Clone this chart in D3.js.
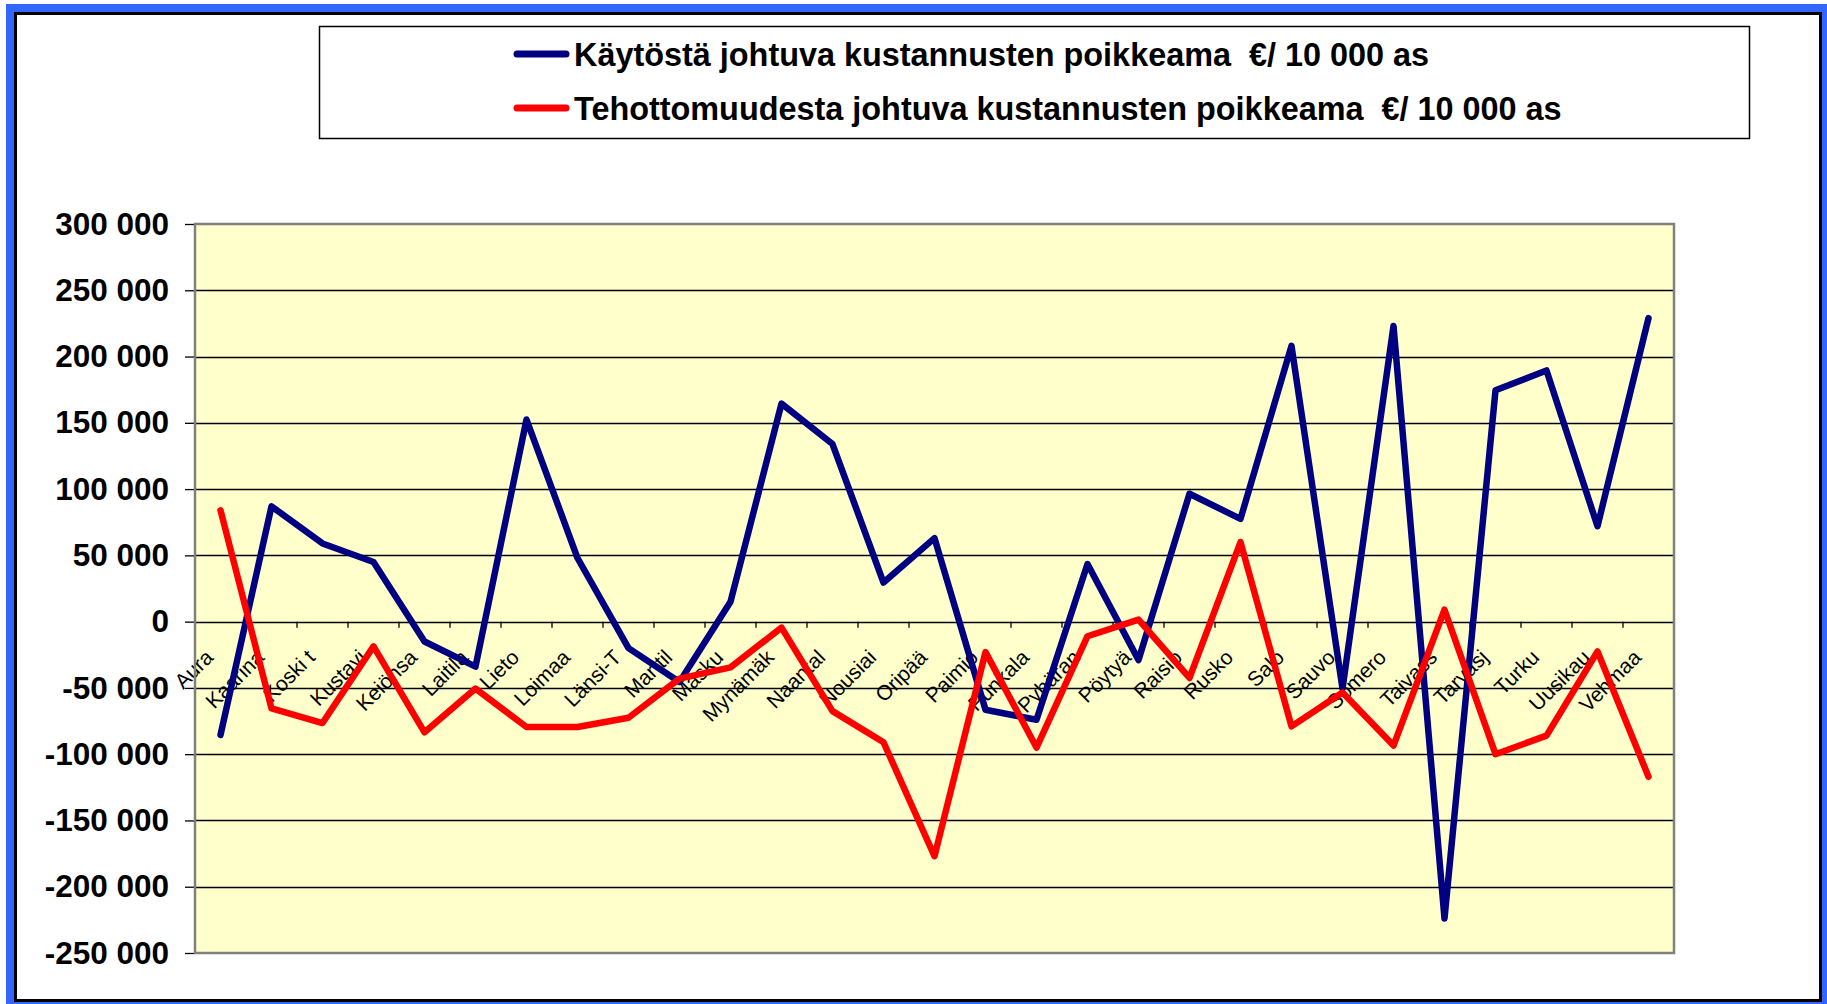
<!DOCTYPE html>
<html>
<head>
<meta charset="utf-8">
<script src="https://cdn.jsdelivr.net/npm/d3@7/dist/d3.min.js"></script>
<style>
  html, body { margin: 0; padding: 0; background: #ffffff; }
  svg { display: block; }
  text { font-family: "Liberation Sans", Arial, Helvetica, sans-serif; }
</style>
</head>
<body>
<svg id="chart" width="1827" height="1004"></svg>
<script>
// ---- Data ----
const categories = ["Aura","Kaarina","Koski t","Kustavi","Keiönsa","Laitila","Lieto","Loimaa","Länsi-T","Marttil",
  "Masku","Mynämäk","Naantal","Nousiai","Oripää","Paimio","Punkala","Pyhäran","Pöytyä","Raisio",
  "Rusko","Salo","Sauvo","Somero","Taivass","Tarvasj","Turku","Uusikau","Vehmaa"];

const kaytostaValues = [-85500, 87000, 59000, 45000, -15000, -34000, 152500, 48000, -20000, -45500,
  15000, 164500, 134000, 29500, 63000, -66500, -74000, 43500, -29000, 96500,
  77500, 208000, -50500, 223000, -224000, 174500, 189500, 72000, 229000];

const tehottomuusValues = [84000, -65500, -76500, -18700, -83500, -50500, -79500, -79500, -72500, -43000,
  -34500, -4500, -67500, -91000, -177000, -23000, -95000, -11000, 1500, -42500,
  60000, -79000, -53500, -93500, 9000, -100000, -86000, -22500, -117000];

const yTicks = [300000, 250000, 200000, 150000, 100000, 50000, 0, -50000, -100000, -150000, -200000, -250000];

const seriesNames = [
  "Käytöstä johtuva kustannusten poikkeama  €/ 10 000 as",
  "Tehottomuudesta johtuva kustannusten poikkeama  €/ 10 000 as"
];
const seriesColors = ["#000080", "#FF0000"];

// ---- Layout ----
const svg = d3.select("#chart");
const W = 1827, H = 1004;
const plot = { left: 195, right: 1674, top: 224, bottom: 953 };

// Frame: blue band with black inner border
svg.append("rect").attr("x", 6).attr("y", 4).attr("width", W - 6).attr("height", H - 4).attr("fill", "#3366FF");
svg.append("rect").attr("x", 14).attr("y", 12).attr("width", 1808).attr("height", 990).attr("fill", "#000000");
svg.append("rect").attr("x", 17).attr("y", 15).attr("width", 1802).attr("height", 984).attr("fill", "#ffffff");

// Scales
const x = d3.scaleBand().domain(categories).range([plot.left, plot.right]).padding(0);
const cx = d => x(d) + x.bandwidth() / 2;
const y = d3.scaleLinear().domain([-250000, 300000]).range([plot.bottom, plot.top]);

// Plot background
svg.append("rect")
  .attr("x", plot.left).attr("y", plot.top)
  .attr("width", plot.right - plot.left).attr("height", plot.bottom - plot.top)
  .attr("fill", "#FFFFCC");

// Gridlines
svg.append("g").selectAll("line").data(yTicks.filter(v => v !== 300000 && v !== -250000)).join("line")
  .attr("x1", plot.left).attr("x2", plot.right)
  .attr("y1", d => Math.round(y(d)) + 0.5).attr("y2", d => Math.round(y(d)) + 0.5)
  .attr("stroke", "#000").attr("stroke-width", 1.3);

// Y axis (ticks + labels)
const fmt = v => {
  const s = d3.format(",")(Math.abs(v)).replace(/,/g, " ");
  return (v < 0 ? "-" : "") + s;
};
const yAxis = d3.axisLeft(y).tickValues(yTicks).tickSize(10).tickPadding(16).tickFormat(fmt);
const gy = svg.append("g").attr("transform", `translate(${plot.left},0)`).call(yAxis);
gy.select(".domain").remove();
gy.selectAll(".tick line").attr("stroke", "#000").attr("stroke-width", 1.3);
gy.selectAll(".tick text")
  .attr("fill", "#000")
  .style("font-family", '"Liberation Sans", Arial, sans-serif')
  .style("font-size", "31.5px").style("font-weight", "bold");

// X axis at zero: ticks at category boundaries
const y0 = y(0);
const boundaries = categories.map(c => x(c)).concat([plot.right]).slice(1);
svg.append("g").selectAll("line").data(boundaries).join("line")
  .attr("x1", d => d).attr("x2", d => d)
  .attr("y1", y0).attr("y2", y0 + 6)
  .attr("stroke", "#000").attr("stroke-width", 1.3);

// X labels
svg.append("g").selectAll("text").data(categories).join("text")
  .attr("transform", d => `translate(${cx(d) - 6},${y0 + 37}) rotate(-45)`)
  .attr("text-anchor", "end")
  .attr("fill", "#000")
  .style("font-size", "21px")
  .text(d => d);

// Plot border
svg.append("rect")
  .attr("x", plot.left).attr("y", plot.top)
  .attr("width", plot.right - plot.left).attr("height", plot.bottom - plot.top)
  .attr("fill", "none").attr("stroke", "#808080").attr("stroke-width", 2.5);

// Lines
const seriesData = [kaytostaValues, tehottomuusValues];
const line = d3.line().x((d, i) => cx(categories[i])).y(d => y(d));
seriesData.forEach((vals, si) => {
  svg.append("path")
    .datum(vals)
    .attr("d", line)
    .attr("fill", "none")
    .attr("stroke", seriesColors[si])
    .attr("stroke-width", 6.5)
    .attr("stroke-linejoin", "round")
    .attr("stroke-linecap", "round");
});

// Legend
const lg = svg.append("g");
lg.append("rect").attr("x", 319.5).attr("y", 26.5).attr("width", 1430).attr("height", 112)
  .attr("fill", "#fff").attr("stroke", "#000").attr("stroke-width", 1.5);
const legendY = [54, 108];
seriesNames.forEach((name, i) => {
  lg.append("line").attr("x1", 517).attr("x2", 566).attr("y1", legendY[i]).attr("y2", legendY[i])
    .attr("stroke", seriesColors[i]).attr("stroke-width", 7).attr("stroke-linecap", "round");
  lg.append("text").attr("x", 574).attr("y", legendY[i] + 12)
    .attr("fill", "#000")
    .style("font-size", "32.4px").style("font-weight", "bold").style("white-space", "pre")
    .attr("xml:space", "preserve")
    .text(name);
});
</script>
</body>
</html>
